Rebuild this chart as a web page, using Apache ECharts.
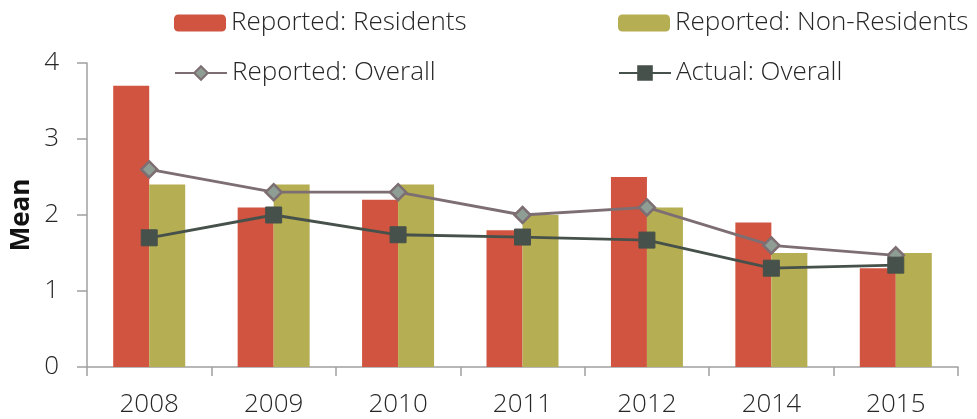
<!DOCTYPE html>
<html><head><meta charset="utf-8">
<script src="https://cdn.jsdelivr.net/npm/echarts@6/dist/echarts.min.js"></script>
<style>html,body{margin:0;padding:0;background:#fff}#c{width:977px;height:419px}</style>
</head><body><div id="c"></div>
<script>
const categories = ['2008','2009','2010','2011','2012','2014','2015'];
const residents = [3.7, 2.1, 2.2, 1.8, 2.5, 1.9, 1.3];
const nonResidents = [2.4, 2.4, 2.4, 2.0, 2.1, 1.5, 1.5];
const reportedOverall = [2.6, 2.3, 2.3, 2.0, 2.1, 1.6, 1.47];
const actualOverall = [1.7, 2.0, 1.74, 1.71, 1.67, 1.3, 1.34];
const yTicks = [0, 1, 2, 3, 4];

const font = '"Open Sans", sans-serif';
const chart = echarts.init(document.getElementById('c'));
const legendText = {fontFamily: font, fontSize: 26, fontWeight: 300, color: '#262626'};
function lg(name, left, top) {
  return {left: left, top: top, itemWidth: 52, itemHeight: 17, itemGap: 0, padding: 0,
          textStyle: legendText, data: [name]};
}
chart.setOption({
  animation: false,
  grid: {left: 87, right: 19, top: 63, bottom: 52, containLabel: false, outerBoundsMode: 'none'},
  legend: [
    lg('Reported: Residents', 174, 10),
    lg('Reported: Non-Residents', 618, 10),
    lg('Reported: Overall', 174, 60),
    lg('Actual: Overall', 618, 60)
  ],
  xAxis: {
    type: 'category', data: categories, boundaryGap: true,
    axisLine: {lineStyle: {color: '#A0A0A0', width: 1.5}},
    axisTick: {show: true, length: 9, alignWithLabel: false, lineStyle: {color: '#A0A0A0', width: 1.5}},
    axisLabel: {fontFamily: font, fontSize: 26, fontWeight: 300, color: '#262626', margin: 25}
  },
  yAxis: {
    type: 'value', min: yTicks[0], max: yTicks[yTicks.length - 1], interval: 1,
    name: 'Mean', nameLocation: 'middle', nameGap: 52, nameRotate: 90, nameMoveOverlap: false,
    nameTextStyle: {fontFamily: font, fontSize: 26, fontWeight: 'bold', color: '#111'},
    axisLine: {show: true, lineStyle: {color: '#A0A0A0', width: 1.5}},
    axisTick: {show: true, length: 10, lineStyle: {color: '#A0A0A0', width: 1.5}},
    splitLine: {show: false},
    axisLabel: {fontFamily: font, fontSize: 26, fontWeight: 300, color: '#262626', margin: 28}
  },
  series: [
    {name: 'Reported: Residents', type: 'bar', data: residents, barWidth: 36, barGap: '0%',
     itemStyle: {color: '#D05440'}},
    {name: 'Reported: Non-Residents', type: 'bar', data: nonResidents, barWidth: 36,
     itemStyle: {color: '#B5AE52'}},
    {name: 'Reported: Overall', type: 'line', data: reportedOverall, symbol: 'diamond', symbolSize: 16,
     lineStyle: {color: '#7D6E73', width: 2.8},
     itemStyle: {color: '#8E9E94', borderColor: '#7D6E73', borderWidth: 2.5}},
    {name: 'Actual: Overall', type: 'line', data: actualOverall, symbol: 'rect', symbolSize: 16,
     lineStyle: {color: '#47514B', width: 2.8},
     itemStyle: {color: '#47514B', borderColor: '#47514B', borderWidth: 1}}
  ]
});
</script></body></html>
